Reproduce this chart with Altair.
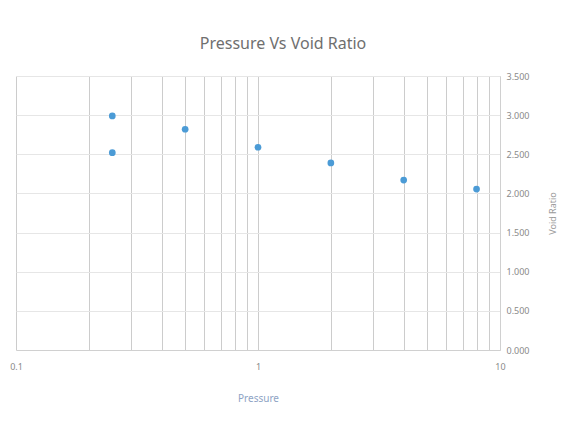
import altair as alt
import pandas as pd

pressure = [0.25, 0.25, 0.5, 1, 2, 4, 8]
void_ratio = [2.99, 2.52, 2.82, 2.59, 2.39, 2.17, 2.055]
x_grid_values = [0.1, 0.2, 0.3, 0.4, 0.5, 0.6, 0.7, 0.8, 0.9,
                 1, 2, 3, 4, 5, 6, 7, 8, 9, 10]
y_ticks = [0, 0.5, 1.0, 1.5, 2.0, 2.5, 3.0, 3.5]

df = pd.DataFrame({"Pressure": pressure, "Void Ratio": void_ratio})

chart = alt.Chart(df).mark_circle(size=45, color="#4b9bd6", opacity=1).encode(
    x=alt.X("Pressure:Q",
            scale=alt.Scale(type="log", domain=[0.1, 10], nice=False),
            axis=alt.Axis(values=x_grid_values, ticks=False, grid=True,
                          gridColor="#cccccc", gridWidth=1,
                          domainColor="#d0d0d0", labelFlush=False,
                          labelExpr="abs(log(datum.value)/LN10 - round(log(datum.value)/LN10)) < 1e-6 ? format(datum.value, '~g') : ''",
                          labelColor="#8a8a8a", labelFontSize=9, labelPadding=12,
                          labelFont="Noto Sans",
                          title="Pressure", titleColor="#8ea3c4", titleFontSize=10,
                          titleFontWeight="normal", titleFont="Noto Sans",
                          titlePadding=22)),
    y=alt.Y("Void Ratio:Q",
            scale=alt.Scale(domain=[0, 3.5], nice=False),
            axis=alt.Axis(orient="right", values=y_ticks, format=".3f", ticks=False,
                          grid=True, gridColor="#e6e6e6",
                          domainColor="#d0d0d0",
                          labelColor="#8a8a8a", labelFontSize=9, labelPadding=6,
                          labelFont="Noto Sans",
                          title="Void Ratio", titleColor="#9a9a9a", titleFontSize=9,
                          titleFontWeight="normal", titleFont="Noto Sans",
                          titleAngle=270, titlePadding=28)),
).properties(
    width=484,
    height=274,
    title=alt.TitleParams("Pressure Vs Void Ratio", fontSize=16, font="Noto Sans",
                          fontWeight="normal", color="#6f6f6f", offset=20, dx=25),
    padding={"left": 8, "top": 68, "right": 75, "bottom": 74},
    autosize=alt.AutoSizeParams(type="none"),
).configure_view(stroke=None)

chart.save("out.html", embed_options={"renderer": "svg", "actions": False})
